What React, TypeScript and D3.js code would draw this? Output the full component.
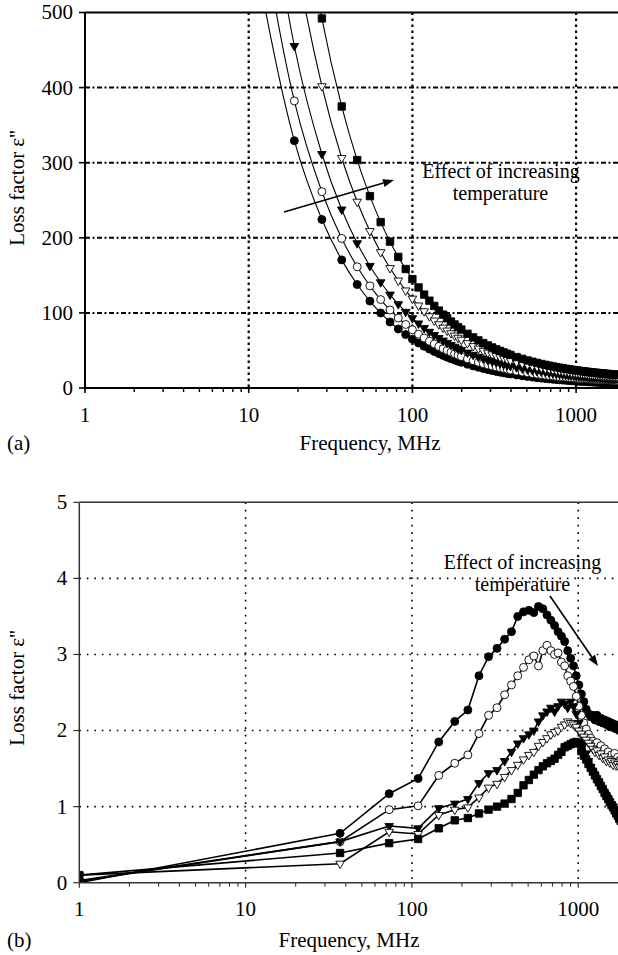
import React from 'react';
import * as d3 from 'd3';

// ---------- DATA ----------
const X_TICKS = [1, 10, 100, 1000];
const Y_TICKS_A = [0, 100, 200, 300, 400, 500];
const Y_TICKS_B = [0, 1, 2, 3, 4, 5];

// Panel (a): frequency (MHz) and loss factor
const FREQ_A = [10, 19, 28, 37, 46, 55, 64, 73, 82, 91, 100, 109, 118, 127, 136, 145, 154, 163, 172, 181, 190, 199,
  217, 235, 253, 271, 289, 307, 325, 343, 361, 379, 397, 433, 469, 505, 541, 577, 613, 649, 685, 721, 757, 793, 829,
  865, 901, 937, 973, 1009, 1045, 1081, 1117, 1153, 1189, 1225, 1261, 1297, 1333, 1369, 1405, 1441, 1477, 1513, 1549,
  1585, 1621, 1657, 1693, 1729, 1765, 1801];
const A_FILLED_CIRCLE = [623, 329.3, 224.4, 170.6, 137.8, 115.7, 99.9, 87.9, 78.6, 71.1, 65, 59.9, 55.5, 51.8, 48.6, 45.8,
  43.3, 41.0, 39.0, 37.3, 35.6, 34.2, 31.6, 29.4, 27.5, 25.9, 24.5, 23.2, 22.1, 21.1, 20.2, 19.4, 18.6, 17.3, 16.2, 15.3,
  14.5, 13.7, 13.1, 12.6, 12.1, 11.6, 11.2, 10.8, 10.5, 10.2, 9.9, 9.6, 9.4, 9.1, 8.9, 8.7, 8.6, 8.4, 8.2, 8.1, 7.9, 7.8,
  7.7, 7.5, 7.4, 7.3, 7.2, 7.1, 7.0, 6.9, 6.8, 6.7, 6.7, 6.6, 6.5, 6.4];
const A_OPEN_CIRCLE = [721, 382.3, 261.4, 199.2, 161.4, 136.0, 117.7, 103.9, 93.2, 84.6, 77.5, 71.6, 66.6, 62.3, 58.6, 55.3,
  52.4, 49.9, 47.6, 45.5, 43.6, 41.9, 38.9, 36.4, 34.3, 32.4, 30.7, 29.3, 28.0, 26.8, 25.8, 24.9, 24.0, 22.5, 21.2, 20.2,
  19.2, 18.4, 17.7, 17.0, 16.4, 15.9, 15.4, 15.0, 14.6, 14.3, 13.9, 13.6, 13.3, 13.1, 12.8, 12.6, 12.4, 12.2, 12.0, 11.8,
  11.7, 11.5, 11.4, 11.2, 11.1, 11.0, 10.8, 10.7, 10.6, 10.5, 10.4, 10.3, 10.2, 10.1, 10.1, 10.0];
const A_FILLED_TRI = [858, 455.4, 311.6, 237.7, 192.8, 162.5, 140.8, 124.4, 111.7, 101.4, 93, 86.0, 80.0, 74.9, 70.5, 66.6,
  63.2, 60.1, 57.4, 55.0, 52.7, 50.7, 47.2, 44.2, 41.6, 39.4, 37.4, 35.7, 34.2, 32.8, 31.5, 30.4, 29.4, 27.6, 26.1, 24.8,
  23.7, 22.7, 21.9, 21.1, 20.4, 19.8, 19.2, 18.7, 18.3, 17.8, 17.4, 17.1, 16.7, 16.4, 16.1, 15.9, 15.6, 15.4, 15.1, 14.9,
  14.7, 14.6, 14.4, 14.2, 14.0, 13.9, 13.8, 13.6, 13.5, 13.4, 13.2, 13.1, 13.0, 12.9, 12.8, 12.7];
const A_OPEN_TRI = [1109, 587.9, 401.9, 306.3, 248.1, 209, 180.9, 159.7, 143.1, 129.9, 119, 109.9, 102.2, 95.6, 89.9, 84.9,
  80.4, 76.5, 73.0, 69.8, 66.9, 64.3, 59.7, 55.8, 52.5, 49.6, 47.1, 44.8, 42.8, 41.1, 39.5, 38.0, 36.7, 34.4, 32.5, 30.8,
  29.3, 28.1, 26.9, 25.9, 25.1, 24.3, 23.5, 22.9, 22.3, 21.7, 21.2, 20.7, 20.3, 19.9, 19.5, 19.2, 18.8, 18.5, 18.3, 18.0,
  17.7, 17.5, 17.3, 17.0, 16.8, 16.6, 16.4, 16.3, 16.1, 15.9, 15.8, 15.6, 15.5, 15.4, 15.2, 15.1];
const A_SQUARE = [1360, 720.5, 492.1, 374.9, 303.5, 255.5, 220.9, 194.9, 174.6, 158.4, 145, 133.9, 124.4, 116.3, 109.3, 103.1,
  97.7, 92.8, 88.5, 84.6, 81.1, 77.8, 72.2, 67.4, 63.4, 59.8, 56.7, 54.0, 51.5, 49.4, 47.4, 45.6, 44.0, 41.2, 38.8, 36.7,
  35.0, 33.4, 32.0, 30.8, 29.7, 28.7, 27.8, 27.0, 26.3, 25.6, 25.0, 24.4, 23.9, 23.4, 22.9, 22.5, 22.1, 21.7, 21.4, 21.0,
  20.7, 20.4, 20.1, 19.9, 19.6, 19.4, 19.1, 18.9, 18.7, 18.5, 18.3, 18.1, 18.0, 17.8, 17.7, 17.5];

// Panel (b)
const FREQ_B = [1, 37, 73, 109, 145, 181, 217, 253, 289, 325, 361, 397, 433, 469, 505, 541, 577, 613, 649, 685, 721, 757,
  793, 829, 865, 901, 937, 973, 1009, 1045, 1081, 1117, 1153, 1189, 1225, 1261, 1297, 1333, 1369, 1405, 1441, 1477, 1513,
  1549, 1585, 1621, 1657, 1693, 1729, 1765, 1801];
const B_FILLED_CIRCLE = [0.0, 0.65, 1.17, 1.37, 1.85, 2.12, 2.27, 2.72, 2.97, 3.08, 3.20, 3.30, 3.50, 3.56, 3.58, 3.55, 3.63,
  3.60, 3.52, 3.45, 3.38, 3.30, 3.24, 3.17, 3.05, 2.95, 2.85, 2.72, 2.60, 2.48, 2.38, 2.28, 2.22, 2.18, 2.20, 2.14, 2.20,
  2.12, 2.16, 2.10, 2.14, 2.08, 2.12, 2.05, 2.10, 2.04, 2.08, 2.02, 2.05, 2.00, 2.02];
const B_OPEN_CIRCLE = [0.03, 0.54, 0.96, 1.01, 1.41, 1.57, 1.68, 1.96, 2.20, 2.30, 2.47, 2.60, 2.72, 2.83, 2.93, 2.98, 2.85,
  3.05, 3.12, 3.05, 3.00, 3.02, 2.90, 2.85, 2.72, 2.65, 2.58, 2.45, 2.32, 2.20, 2.10, 2.02, 1.95, 1.90, 1.86, 1.80, 1.84,
  1.76, 1.80, 1.72, 1.76, 1.68, 1.72, 1.64, 1.68, 1.62, 1.70, 1.60, 1.65, 1.60, 1.62];
const B_FILLED_TRI = [0.02, 0.54, 0.745, 0.715, 0.98, 1.04, 1.10, 1.31, 1.44, 1.48, 1.60, 1.72, 1.83, 1.90, 1.95, 2.00, 2.12,
  2.20, 2.25, 2.30, 2.25, 2.32, 2.38, 2.35, 2.30, 2.38, 2.32, 2.22, 2.10, 1.95, 1.82, 1.70, 1.60, 1.52, 1.45, 1.40, 1.34,
  1.30, 1.25, 1.21, 1.17, 1.13, 1.10, 1.06, 1.03, 1.00, 0.97, 0.94, 0.92, 0.90, 0.88];
const B_OPEN_TRI = [0.10, 0.25, 0.67, 0.64, 0.89, 0.96, 0.99, 1.12, 1.25, 1.30, 1.39, 1.48, 1.55, 1.62, 1.68, 1.72, 1.80,
  1.85, 1.90, 1.95, 1.98, 2.00, 2.05, 2.08, 2.12, 2.10, 2.08, 2.05, 2.00, 1.96, 1.92, 1.88, 1.84, 1.80, 1.76, 1.72, 1.74,
  1.68, 1.70, 1.64, 1.66, 1.60, 1.62, 1.58, 1.60, 1.55, 1.58, 1.54, 1.56, 1.52, 1.54];
const B_SQUARE = [0.10, 0.39, 0.52, 0.575, 0.715, 0.82, 0.85, 0.91, 0.96, 1.00, 1.04, 1.10, 1.18, 1.28, 1.35, 1.42, 1.48,
  1.53, 1.57, 1.60, 1.63, 1.68, 1.72, 1.78, 1.80, 1.82, 1.84, 1.85, 1.83, 1.73, 1.67, 1.62, 1.56, 1.51, 1.46, 1.41, 1.36,
  1.32, 1.27, 1.23, 1.18, 1.14, 1.10, 1.06, 1.02, 0.99, 0.95, 0.91, 0.88, 0.84, 0.81];

const SHAPES = ['circle', 'circle', 'tri', 'tri', 'square'];
const FILLED = [true, false, true, false, true];

const FONT = '"Liberation Serif", "Times New Roman", Times, serif';
const FS = 21;

type PanelCfg = {
  id: string;
  freq: number[];
  series: number[][];
  xLeft: number; xDecade: number; xRight: number;
  yTop: number; yBottom: number; yMax: number; yTicks: number[];
  axisW: number; axisColor: string;
  hGridDash: string; vGridDash: string; hGridW: number; vGridW: number;
  curve: any; lineW: number; mSize: number;
  label: string; labelBaseline: number; titleX: number; tickBaseline: number; yTitleY: number;
};

function markerPath(shape: string, size: number) {
  if (shape === 'circle') return d3.symbol(d3.symbolCircle, size * size * 0.785)() as string;
  if (shape === 'square') return d3.symbol(d3.symbolSquare, size * size * 0.85)() as string;
  return d3.symbol(d3.symbolTriangle, size * size * 0.5)() as string;
}

function Panel({ c }: { c: PanelCfg }) {
  const x = d3.scaleLog().domain([1, 1000]).range([c.xLeft, c.xLeft + 3 * c.xDecade]);
  const y = d3.scaleLinear().domain([0, c.yMax]).range([c.yBottom, c.yTop]);
  const minor: number[] = [];
  [1, 10, 100, 1000].forEach((d) => {
    for (let k = 2; k <= 9; k++) if (x(d * k) <= c.xRight) minor.push(d * k);
  });
  const line = d3.line<number>().x((_, i) => x(c.freq[i])).y((v) => y(v)).curve(c.curve);
  const clipId = `clip-${c.id}`;
  return (
    <g>
      <defs>
        <clipPath id={clipId}>
          <rect x={c.xLeft} y={c.yTop} width={c.xRight - c.xLeft} height={c.yBottom - c.yTop} />
        </clipPath>
      </defs>
      {/* grid */}
      {c.yTicks.filter((t) => t > 0 && t < c.yMax).map((t) => (
        <line key={`h${t}`} x1={c.xLeft} x2={c.xRight} y1={y(t)} y2={y(t)} stroke="#000"
          strokeWidth={c.hGridW} strokeDasharray={c.hGridDash} />
      ))}
      {X_TICKS.filter((t) => t > 1).map((t) => (
        <line key={`v${t}`} x1={x(t)} x2={x(t)} y1={c.yTop} y2={c.yBottom} stroke="#000"
          strokeWidth={c.vGridW} strokeDasharray={c.vGridDash} />
      ))}
      {/* data */}
      <g clipPath={`url(#${clipId})`}>
        {c.series.map((vals, si) => (
          <g key={si}>
            <path d={line(vals) as string} fill="none" stroke="#000" strokeWidth={c.lineW} />
            {vals.map((v, i) => {
              const px = x(c.freq[i]);
              const py = y(v);
              if (py < c.yTop - 10 || px > c.xRight + 10) return null;
              const shape = SHAPES[si];
              return (
                <path key={i} d={markerPath(shape, c.mSize)}
                  transform={`translate(${px},${py})${shape === 'tri' ? ' rotate(180)' : ''}`}
                  fill={FILLED[si] ? '#000' : '#fff'} stroke="#000" strokeWidth={0.9} />
              );
            })}
          </g>
        ))}
      </g>
      {/* axes */}
      <line x1={c.xLeft} x2={c.xRight} y1={c.yTop} y2={c.yTop} stroke={c.axisColor} strokeWidth={c.axisW} />
      <line x1={c.xLeft} x2={c.xRight} y1={c.yBottom} y2={c.yBottom} stroke={c.axisColor} strokeWidth={c.axisW} />
      <line x1={c.xLeft} x2={c.xLeft} y1={c.yTop} y2={c.yBottom} stroke={c.axisColor} strokeWidth={c.axisW} />
      {c.yTicks.map((t) => (
        <g key={`yt${t}`}>
          <line x1={c.xLeft - 6} x2={c.xLeft} y1={y(t)} y2={y(t)} stroke={c.axisColor} strokeWidth={c.axisW * 0.8} />
          <text x={c.xLeft - 12} y={y(t)} dy="0.33em" textAnchor="end" fontFamily={FONT} fontSize={FS}>{t}</text>
        </g>
      ))}
      {X_TICKS.map((t) => (
        <g key={`xt${t}`}>
          <line x1={x(t)} x2={x(t)} y1={c.yBottom} y2={c.yBottom + 5} stroke={c.axisColor} strokeWidth={c.axisW * 0.8} />
          <text x={x(t)} y={c.tickBaseline} textAnchor="middle" fontFamily={FONT} fontSize={FS}>{t}</text>
        </g>
      ))}
      {minor.map((t) => (
        <line key={`mt${t}`} x1={x(t)} x2={x(t)} y1={c.yBottom} y2={c.yBottom + 4} stroke={c.axisColor} strokeWidth={c.axisW * 0.7} />
      ))}
      <text x={7} y={c.labelBaseline} fontFamily={FONT} fontSize={FS}>{c.label}</text>
      <text x={c.titleX} y={c.labelBaseline} textAnchor="middle" fontFamily={FONT} fontSize={FS}>Frequency, MHz</text>
      <text transform={`translate(24,${c.yTitleY}) rotate(-90)`} textAnchor="middle" fontFamily={FONT} fontSize={FS}>
        Loss factor ε''
      </text>
    </g>
  );
}

function Arrow({ x1, y1, x2, y2 }: { x1: number; y1: number; x2: number; y2: number }) {
  const ang = Math.atan2(y2 - y1, x2 - x1);
  const L = 11, Wd = 4;
  const bx = x2 - L * Math.cos(ang), by = y2 - L * Math.sin(ang);
  const px = -Math.sin(ang) * Wd, py = Math.cos(ang) * Wd;
  return (
    <g>
      <line x1={x1} y1={y1} x2={bx} y2={by} stroke="#000" strokeWidth={1.6} />
      <path d={`M${x2},${y2}L${bx + px},${by + py}L${bx - px},${by - py}Z`} fill="#000" />
    </g>
  );
}

export default function App() {
  const panelA: PanelCfg = {
    id: 'a', freq: FREQ_A,
    series: [A_FILLED_CIRCLE, A_OPEN_CIRCLE, A_FILLED_TRI, A_OPEN_TRI, A_SQUARE],
    xLeft: 85, xDecade: 163.7, xRight: 618,
    yTop: 12.5, yBottom: 388, yMax: 500, yTicks: Y_TICKS_A,
    axisW: 2, axisColor: '#000',
    hGridDash: '5 2.5 2 2.5', vGridDash: '2.5 3.5', hGridW: 2, vGridW: 2.2,
    curve: d3.curveMonotoneX, lineW: 1.1, mSize: 8,
    label: '(a)', labelBaseline: 450, titleX: 370, tickBaseline: 422, yTitleY: 188,
  };
  const panelB: PanelCfg = {
    id: 'b', freq: FREQ_B,
    series: [B_FILLED_CIRCLE, B_OPEN_CIRCLE, B_FILLED_TRI, B_OPEN_TRI, B_SQUARE],
    xLeft: 79.3, xDecade: 166.3, xRight: 618,
    yTop: 502.3, yBottom: 882.7, yMax: 5, yTicks: Y_TICKS_B,
    axisW: 1.5, axisColor: '#333',
    hGridDash: '1.6 5.9', vGridDash: '1.6 5.9', hGridW: 1.6, vGridW: 1.6,
    curve: d3.curveLinear, lineW: 1.6, mSize: 8,
    label: '(b)', labelBaseline: 947, titleX: 349, tickBaseline: 916, yTitleY: 688,
  };
  const annFS = 20;
  return (
    <svg width={618} height={955} style={{ position: 'absolute', left: 0, top: 0, background: '#fff' }}>
      <rect width={618} height={955} fill="#fff" />
      <Panel c={panelA} />
      <Panel c={panelB} />
      {/* annotations */}
      <Arrow x1={284} y1={212} x2={394} y2={180} />
      <text x={501} y={178} textAnchor="middle" fontFamily={FONT} fontSize={annFS}>Effect of increasing</text>
      <text x={500.5} y={200} textAnchor="middle" fontFamily={FONT} fontSize={annFS}>temperature</text>
      <Arrow x1={550} y1={596} x2={598} y2={666} />
      <text x={522.5} y={569} textAnchor="middle" fontFamily={FONT} fontSize={annFS}>Effect of increasing</text>
      <text x={522.5} y={591} textAnchor="middle" fontFamily={FONT} fontSize={annFS}>temperature</text>
    </svg>
  );
}
